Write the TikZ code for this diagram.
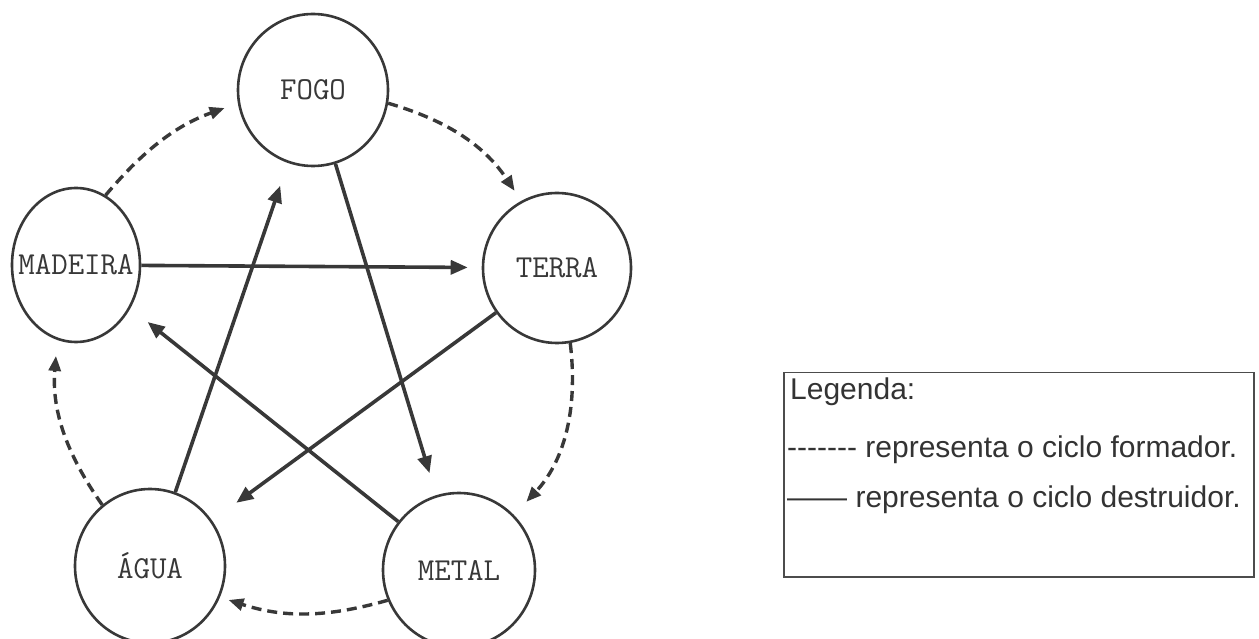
\documentclass[tikz,border=0pt]{standalone}
\usepackage{fontspec}
\newfontfamily\legendfont{Liberation Sans}
\usepackage{tikz}
\usetikzlibrary{shapes.geometric,arrows.meta}

\colorlet{ink}{black!78}

\begin{document}
\begin{tikzpicture}[
            x=1pt, y=1pt,
            element/.style={ellipse, draw=ink, line width=2.6pt, fill=white, inner sep=0pt, text=ink, font=\ttfamily\fontsize{32}{32}\selectfont},
            destroy/.style={line width=3.6pt, draw=ink, -{Triangle[length=17pt,width=14pt]}},
            form/.style={line width=3.4pt, draw=ink, dash pattern=on 10pt off 6pt, -{Triangle[length=15pt,width=12pt]}},
            legtext/.style={anchor=base west, inner sep=0pt, text=black!80, font=\legendfont\fontsize{30}{31}\selectfont}
        ]
        \useasboundingbox (0,0) rectangle (1259,638);

        % The five elements
        \node[element, minimum width=150, minimum height=152] (fogo) at (313,548) {FOGO};
        \node[element, minimum width=128, minimum height=154] (madeira) at (76,373) {\makebox[0pt]{MADEIRA}};
        \node[element, minimum width=148, minimum height=150] (terra) at (557,370) {TERRA};
        \node[element, minimum width=150, minimum height=154] (agua) at (150,72) {ÁGUA};
        \node[element, minimum width=152, minimum height=154] (metal) at (459,68) {METAL};

        % Destructive cycle (solid)
        \draw[destroy, shorten >=14pt] (madeira) -- (terra);
        \draw[destroy, shorten >=23pt] (fogo) -- (metal);
        \draw[destroy, shorten >=30pt] (terra) -- (agua);
        \draw[destroy, shorten >=24pt] (agua) -- (fogo);
        \draw[destroy, shorten >=22pt] (metal) -- (madeira);

        % Formative cycle (dashed)
        \draw[form, shorten >=14pt] (madeira.67) to[bend left=15] (fogo.190);
        \draw[form, shorten >=12pt] (fogo.-10) to[bend left=20] (terra.118);
        \draw[form, shorten >=18pt] (terra.-80) to[bend left=25] (metal.45);
        \draw[form, shorten >=9pt] (metal.203) to[bend left=17] (agua.-24);
        \draw[form, shorten >=16pt] (agua.128) to[bend left=20] (madeira.256);

        % Legend
        \node[draw=black!70, line width=1.5pt, minimum width=470, minimum height=204, anchor=north west, inner sep=0pt] (legend) at (783,266) {};
        \node[legtext] (leghead) at (790,238) {Legenda:};
        \node[legtext] (legform) at (787,181) {-\kern0pt-\kern0pt-\kern0pt-\kern0pt-\kern0pt-\kern0pt- representa o ciclo formador.};
        \node[legtext] (legdestroy) at (787,131) {—— representa o ciclo destruidor.};

\end{tikzpicture}
\end{document}
